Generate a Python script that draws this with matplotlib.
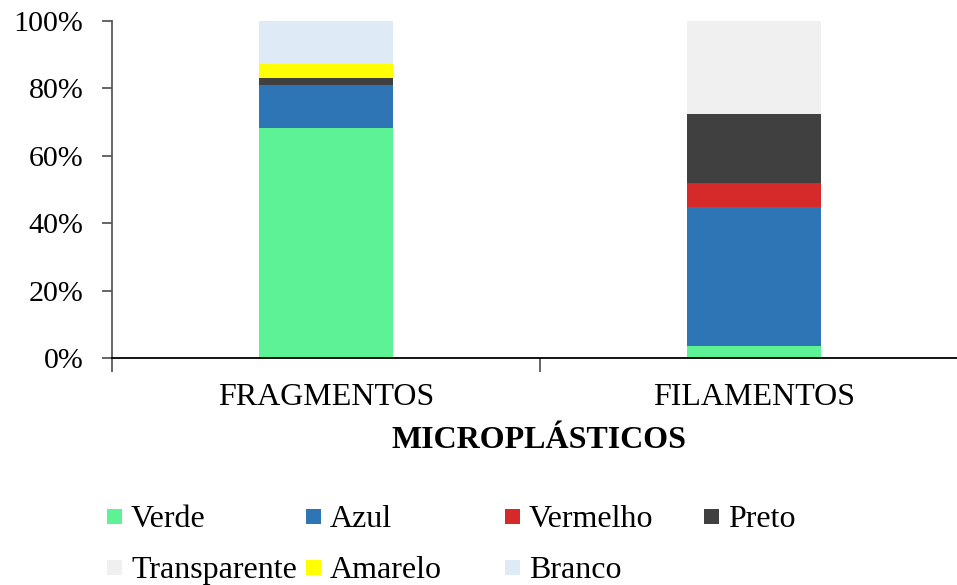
import matplotlib
matplotlib.use("Agg")
import matplotlib.pyplot as plt
from matplotlib.patches import Rectangle
from matplotlib.ticker import FixedLocator, PercentFormatter

categories = ["FRAGMENTOS", "FILAMENTOS"]
series_names = ["Verde", "Azul", "Vermelho", "Preto", "Transparente", "Amarelo", "Branco"]
series_colors = ["#5EF296", "#2E75B6", "#D62A2A", "#404040", "#F0F0F0", "#FFFF00", "#DEEAF6"]

verde = [68.1, 3.6]
azul = [12.8, 41.1]
vermelho = [0.0, 7.1]
preto = [2.1, 20.5]
transparente = [0.0, 27.7]
amarelo = [4.3, 0.0]
branco = [12.8, 0.0]
values = [verde, azul, vermelho, preto, transparente, amarelo, branco]

y_ticks = [0, 20, 40, 60, 80, 100]

plt.rcParams["font.family"] = ["Liberation Serif", "DejaVu Serif"]
FS = 23
FS_Y = 21.6

W, H = 957, 585
fig = plt.figure(figsize=(W / 100, H / 100), dpi=100)
ax_left, ax_right, ax_bottom, ax_top = 112, 968, 358, 20.7
ax = fig.add_axes([ax_left / W, (H - ax_bottom) / H,
                   (ax_right - ax_left) / W, (ax_bottom - ax_top) / H])

x = list(range(len(categories)))
bottom = [0.0] * len(categories)
for name, color, vals in zip(series_names, series_colors, values):
    ax.bar(x, vals, width=0.313, bottom=bottom, color=color, label=name,
           edgecolor="none", zorder=2)
    bottom = [b + v for b, v in zip(bottom, vals)]

ax.set_xlim(-0.5, len(categories) - 0.5)
ax.set_ylim(0, 100)
ax.set_yticks(y_ticks)
ax.yaxis.set_major_formatter(PercentFormatter(decimals=0))
ax.set_xticks(x)
ax.set_xticklabels(categories)
ax.xaxis.set_minor_locator(FixedLocator([i - 0.5 for i in range(len(categories) + 1)]))

for side in ("top", "right"):
    ax.spines[side].set_visible(False)
ax.spines["left"].set_color("#595959")
ax.spines["bottom"].set_color("#000000")
ax.spines["left"].set_linewidth(1.3)
ax.spines["bottom"].set_linewidth(1.3)

ax.tick_params(axis="y", direction="out", length=7.5, width=1.3, color="#595959",
               labelsize=FS_Y, pad=13)
ax.tick_params(axis="x", which="major", length=0, labelsize=FS, pad=18)
ax.tick_params(axis="x", which="minor", direction="out", length=10, width=1.3,
               color="#595959")

fig.text(539 / W, 1 - 441 / H, "MICROPLÁSTICOS", ha="center", va="center",
         fontsize=FS, fontweight="bold")

# legend laid out in a fixed grid
col_x = [107, 306, 505, 704]
row_y = [516, 567]
sq = 15
for i, (name, color) in enumerate(zip(series_names, series_colors)):
    r, c = divmod(i, 4)
    x0, yc = col_x[c], row_y[r]
    fig.patches.append(Rectangle((x0 / W, 1 - (yc + sq / 2) / H), sq / W, sq / H,
                                 transform=fig.transFigure, facecolor=color,
                                 edgecolor="none"))
    fig.text((x0 + 24) / W, 1 - yc / H, name, ha="left", va="center_baseline",
             fontsize=FS)

fig.savefig("out.png", dpi=100)
